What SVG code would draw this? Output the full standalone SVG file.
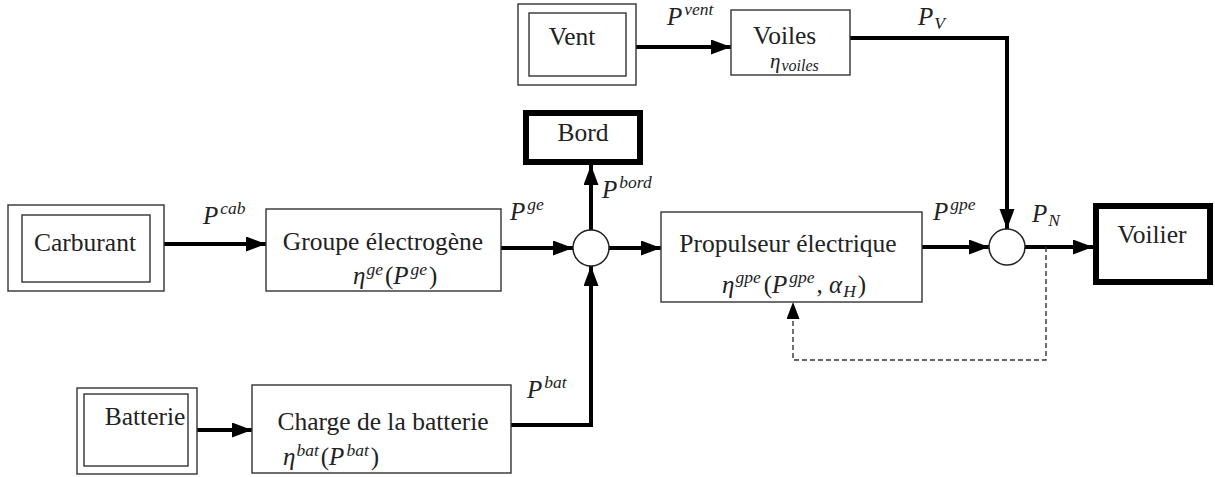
<svg xmlns="http://www.w3.org/2000/svg" width="1215" height="477" viewBox="0 0 1215 477">
<defs>
<style>
.t{font-family:"Liberation Serif","DejaVu Serif",serif;font-size:25.5px;fill:#222}
.m{font-family:"Liberation Serif","DejaVu Serif",serif;font-size:25px;font-style:italic;fill:#222}
.s{font-size:17.5px}
.r{font-style:normal}
.box{fill:#fff;stroke:#333;stroke-width:1.4}
.thick{fill:#fff;stroke:#000;stroke-width:6}
.sum{fill:#fff;stroke:#222;stroke-width:1.5}
.c{fill:none;stroke:#000;stroke-width:4}
.d{fill:none;stroke:#333;stroke-width:1.4;stroke-dasharray:5 3}
</style>
<marker id="ah" markerUnits="userSpaceOnUse" markerWidth="21" markerHeight="16" refX="20" refY="7.5" orient="auto"><path d="M0,0 L20,7.5 L0,15 z" fill="#000"/></marker>
<marker id="ahs" markerUnits="userSpaceOnUse" markerWidth="18" markerHeight="14" refX="17" refY="6.5" orient="auto"><path d="M0,0 L17,6.5 L0,13 z" fill="#000"/></marker>
</defs>

<g id="connectors">
<path class="c" d="M164 244 H266" marker-end="url(#ah)"/>
<path class="c" d="M501 248 H573" marker-end="url(#ah)"/>
<path class="c" d="M591 230 V165" marker-end="url(#ah)"/>
<path class="c" d="M609 248 H661" marker-end="url(#ah)"/>
<path class="c" d="M511 425 H591 V266" marker-end="url(#ah)"/>
<path class="c" d="M197 430 H252" marker-end="url(#ah)"/>
<path class="c" d="M636 47 H731" marker-end="url(#ah)"/>
<path class="c" d="M850 38 H1007 V229" marker-end="url(#ah)"/>
<path class="c" d="M922 247 H989" marker-end="url(#ah)"/>
<path class="c" d="M1025 247 H1093" marker-end="url(#ah)"/>
<path class="d" d="M1046 247 V360 H793 V302" marker-end="url(#ahs)"/>
</g>

<g id="carburant">
<rect class="box" x="8" y="205" width="156" height="86"/>
<rect class="box" x="22" y="215" width="128" height="67"/>
<text class="t" x="85" y="251" text-anchor="middle">Carburant</text>
</g>
<text class="m" x="203" y="224">P<tspan class="s" dx="2" dy="-10">cab</tspan></text>

<g id="groupe">
<rect class="box" x="266" y="209" width="235" height="82"/>
<text class="t" x="383" y="250" text-anchor="middle">Groupe électrogène</text>
<text class="m" x="353" y="284">η<tspan class="s" dx="1" dy="-9">ge</tspan><tspan class="r" dx="2" dy="9">(</tspan>P<tspan class="s" dx="2" dy="-9">ge</tspan><tspan class="r" dx="2" dy="9">)</tspan></text>
</g>
<text class="m" x="510" y="220">P<tspan class="s" dx="2" dy="-10">ge</tspan></text>

<g id="sum1"><circle class="sum" cx="591" cy="248" r="18"/></g>
<text class="m" x="602" y="198">P<tspan class="s" dx="2" dy="-10">bord</tspan></text>

<g id="bord">
<rect class="thick" x="526" y="113" width="114" height="49"/>
<text class="t" x="583" y="141" text-anchor="middle">Bord</text>
</g>

<g id="vent">
<rect class="box" x="518" y="4" width="118" height="81"/>
<rect class="box" x="529" y="13" width="97" height="63"/>
<text class="t" x="572" y="45" text-anchor="middle">Vent</text>
</g>
<text class="m" x="667" y="25">P<tspan class="s" dx="2" dy="-10">vent</tspan></text>

<g id="voiles">
<rect class="box" x="731" y="10" width="119" height="65"/>
<text class="t" x="753" y="44">Voiles</text>
<text class="m" x="770" y="68" style="font-size:21px">η<tspan style="font-size:16px" dx="1" dy="3">voiles</tspan></text>
</g>
<text class="m" x="918" y="25">P<tspan class="s" dx="1" dy="4">V</tspan></text>

<g id="propulseur">
<rect class="box" x="661" y="212" width="261" height="90"/>
<text class="t" x="788" y="252" text-anchor="middle">Propulseur électrique</text>
<text class="m" x="722" y="293">η<tspan class="s" dx="1" dy="-10">gpe</tspan><tspan class="r" dx="3" dy="10">(</tspan>P<tspan class="s" dx="2" dy="-10">gpe</tspan><tspan class="r" dx="2" dy="10">, </tspan>α<tspan class="s" dx="1" dy="4">H</tspan><tspan class="r" dx="2" dy="-4">)</tspan></text>
</g>
<text class="m" x="933" y="220">P<tspan class="s" dx="2" dy="-10">gpe</tspan></text>

<g id="sum2"><circle class="sum" cx="1007" cy="247" r="18"/></g>
<text class="m" x="1032" y="222">P<tspan class="s" dx="1" dy="4">N</tspan></text>

<g id="voilier">
<rect class="thick" x="1096" y="206" width="114" height="76"/>
<text class="t" x="1152" y="243" text-anchor="middle">Voilier</text>
</g>

<g id="batterie">
<rect class="box" x="77" y="388" width="120" height="86"/>
<rect class="box" x="84" y="394" width="104" height="72"/>
<text class="t" x="145" y="425" text-anchor="middle">Batterie</text>
</g>

<g id="charge">
<rect class="box" x="252" y="385" width="259" height="88"/>
<text class="t" x="383" y="430" text-anchor="middle">Charge de la batterie</text>
<text class="m" x="283" y="465">η<tspan class="s" dx="1" dy="-9">bat</tspan><tspan class="r" dx="2" dy="9">(</tspan>P<tspan class="s" dx="2" dy="-9">bat</tspan><tspan class="r" dx="2" dy="9">)</tspan></text>
</g>
<text class="m" x="527" y="398">P<tspan class="s" dx="2" dy="-10">bat</tspan></text>
</svg>
